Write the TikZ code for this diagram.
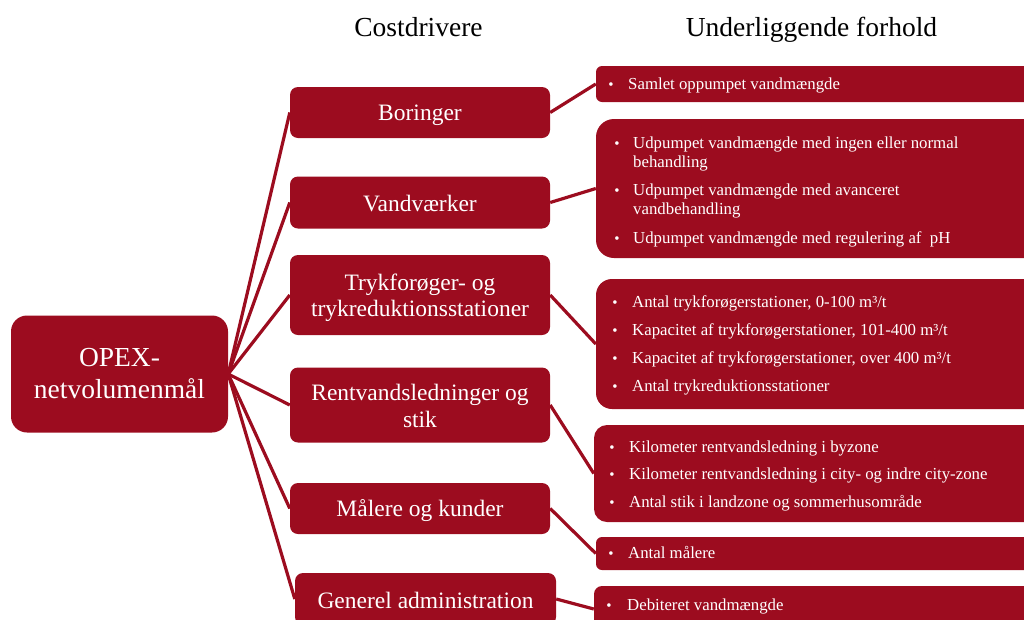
\documentclass[tikz,border=0pt]{standalone}
\usepackage{fontspec}
\setmainfont{Liberation Serif}
\definecolor{myred}{RGB}{156,12,31}
\begin{document}
\begin{tikzpicture}[x=1pt,y=-1pt,
  box/.style={fill=myred, draw=none, text=white, inner sep=0pt, rounded corners=8pt},
  midbox/.style={box, minimum width=260pt},
  midtext/.style={text=white, inner sep=0pt, align=center, font=\fontsize{23.5}{26.5}\selectfont},
  rbox/.style={box, minimum width=446pt},
  conn/.style={draw=myred, line width=3.2pt},
  item/.style={anchor=base west, text=white, inner sep=0pt, font=\fontsize{16.8}{19}\selectfont},
  bul/.style={anchor=base, text=white, inner sep=0pt, font=\fontsize{15}{16}\selectfont},
  title/.style={anchor=base, text=black, inner sep=0pt, font=\fontsize{27.5}{30}\selectfont}]
\useasboundingbox (0,0) rectangle (1024,619);
\clip (0,0) rectangle (1024,619);

% titles
\node[title] (t1) at (418.5,36) {Costdrivere};
\node[title] (t2) at (811.5,36) {Underliggende forhold};

% root
\node[box, rounded corners=16pt, minimum width=217pt, minimum height=117pt, align=center,
      font=\fontsize{27.5}{32}\selectfont] (opex) at (119.5,374) {OPEX-\\netvolumenmål};

% middle boxes
\node[midbox, minimum height=51pt] (bor) at (420,112.5) {};
\node[midbox, minimum height=52pt] (vand) at (420,202.5) {};
\node[midbox, minimum height=80pt] (tryk) at (420,295) {};
\node[midbox, minimum height=75pt] (rent) at (420,405) {};
\node[midbox, minimum height=51pt] (maal) at (420,508.5) {};
\node[midbox, minimum width=261pt, minimum height=52pt] (gen) at (425.5,599) {};

\node[midtext] (borT) at ([yshift=-3pt]bor.center) {Boringer};
\node[midtext] (vandT) at ([yshift=-1pt]vand.center) {Vandværker};
\node[midtext] (trykT) at ([yshift=-3pt]tryk.center) {Trykforøger- og\\trykreduktionsstationer};
\node[midtext] (rentT) at ([yshift=-1pt]rent.center) {Rentvandsledninger og\\stik};
\node[midtext] (maalT) at ([yshift=-2pt]maal.center) {Målere og kunder};
\node[midtext] (genT) at ([yshift=-1pt]gen.center) {Generel administration};

% right boxes
\node[rbox, rounded corners=6pt, minimum height=36pt] (r1) at (819,84) {};
\node[rbox, rounded corners=18pt, minimum height=139pt] (r2) at (819,188.5) {};
\node[rbox, rounded corners=16pt, minimum height=130pt] (r3) at (819,344) {};
\node[rbox, rounded corners=13pt, minimum height=97pt] (r4) at (817,473.5) {};
\node[rbox, rounded corners=6pt, minimum height=33pt] (r5) at (819,553.5) {};
\node[rbox, rounded corners=8pt, minimum height=46pt] (r6) at (817,609) {};

% connectors root -> middle
\foreach \n in {bor,vand,tryk,rent,maal,gen}
  \draw[conn] (opex.east) -- (\n.west);
% connectors middle -> right
\draw[conn] (bor.east) -- (r1.west);
\draw[conn] (vand.east) -- (r2.west);
\draw[conn] (tryk.east) -- (r3.west);
\draw[conn] (rent.east) -- (r4.west);
\draw[conn] (maal.east) -- (r5.west);
\draw[conn] (gen.east) -- (r6.west);

% items
\node[bul] (b1) at (611,89) {•};
\node[item] (i1) at (628,89) {Samlet oppumpet vandmængde};

\node[bul] (b2a) at (617,148) {•};
\node[item] (i2a) at (633,148) {Udpumpet vandmængde med ingen eller normal};
\node[item] (i2b) at (633,167) {behandling};
\node[bul] (b2c) at (617,195) {•};
\node[item] (i2c) at (633,195) {Udpumpet vandmængde med avanceret};
\node[item] (i2d) at (633,214) {vandbehandling};
\node[bul] (b2e) at (617,243) {•};
\node[item] (i2e) at (633,243) {Udpumpet vandmængde med regulering af~ pH};

\node[bul] (b3a) at (615,307) {•};
\node[item] (i3a) at (632,307) {Antal trykforøgerstationer, 0-100 m³/t};
\node[bul] (b3b) at (615,335) {•};
\node[item] (i3b) at (632,335) {Kapacitet af trykforøgerstationer, 101-400 m³/t};
\node[bul] (b3c) at (615,363) {•};
\node[item] (i3c) at (632,363) {Kapacitet af trykforøgerstationer, over 400 m³/t};
\node[bul] (b3d) at (615,391) {•};
\node[item] (i3d) at (632,391) {Antal trykreduktionsstationer};

\node[bul] (b4a) at (612,452) {•};
\node[item] (i4a) at (629,452) {Kilometer rentvandsledning i byzone};
\node[bul] (b4b) at (612,479) {•};
\node[item] (i4b) at (629,479) {Kilometer rentvandsledning i city- og indre city-zone};
\node[bul] (b4c) at (612,507) {•};
\node[item] (i4c) at (629,507) {Antal stik i landzone og sommerhusområde};

\node[bul] (b5) at (611,558) {•};
\node[item] (i5) at (628,558) {Antal målere};

\node[bul] (b6) at (609,610) {•};
\node[item] (i6) at (627,610) {Debiteret vandmængde};
\end{tikzpicture}
\end{document}
